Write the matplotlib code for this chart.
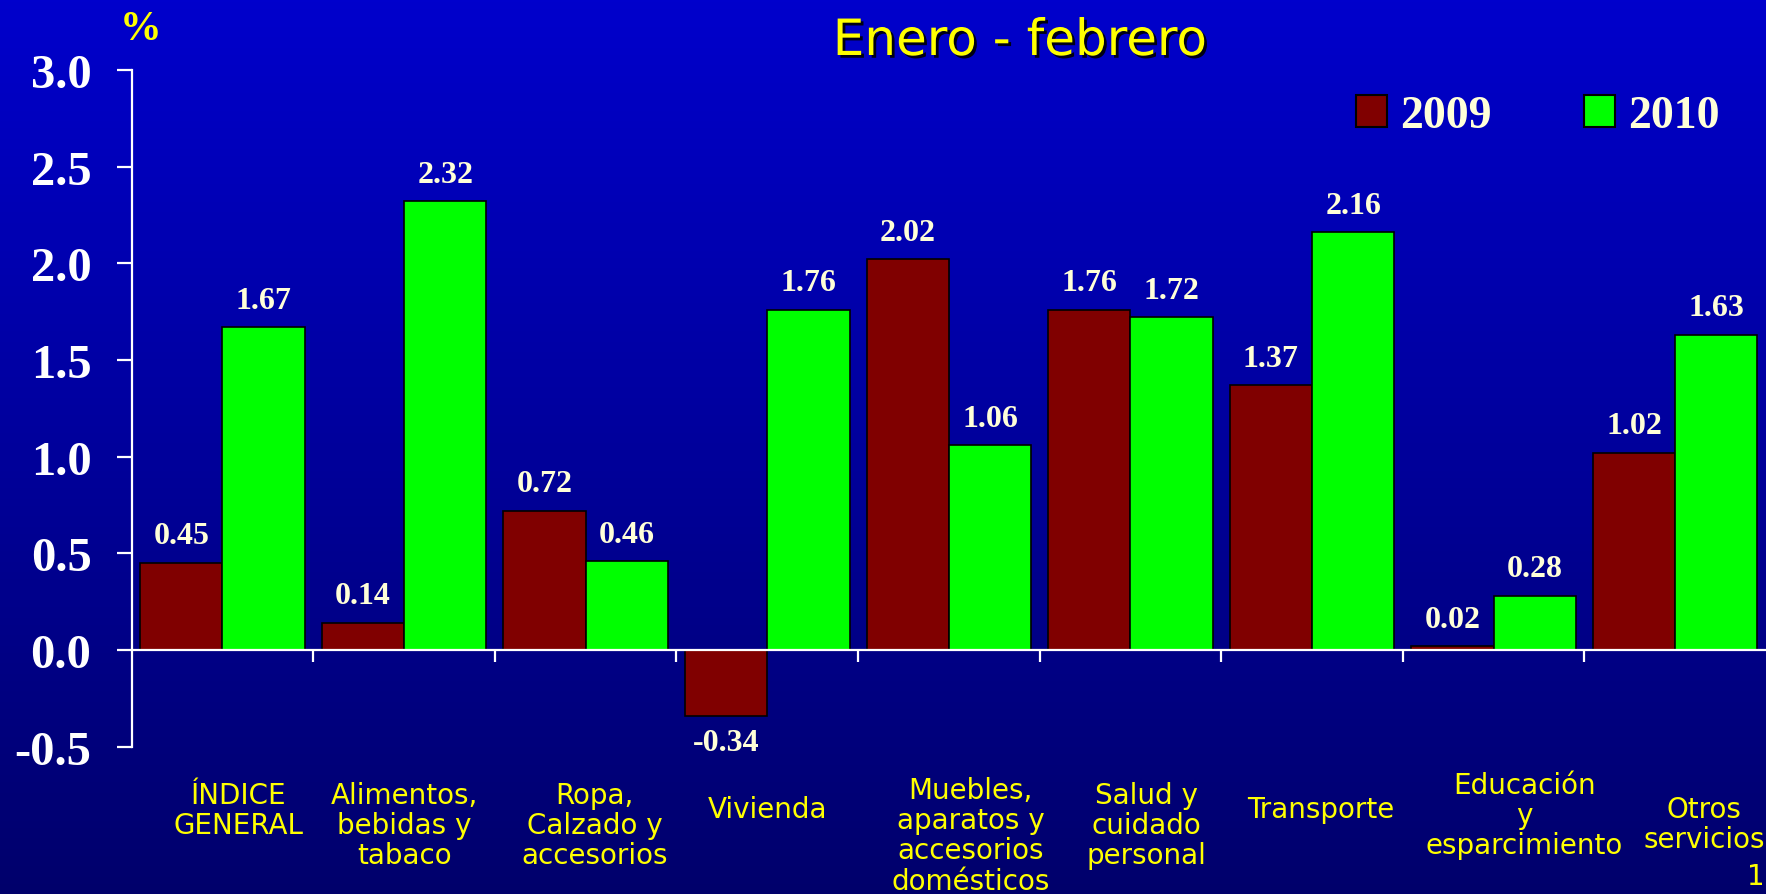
import numpy as np
import matplotlib
matplotlib.use('Agg')
import matplotlib.pyplot as plt
import matplotlib.patheffects as pe
from matplotlib.patches import Patch
from matplotlib.transforms import blended_transform_factory

# datos: variación acumulada enero-febrero (%)
categorias = ['ÍNDICE\nGENERAL', 'Alimentos,\nbebidas y\ntabaco', 'Ropa,\nCalzado y\naccesorios',
              'Vivienda', 'Muebles,\naparatos y\naccesorios\ndomésticos', 'Salud y\ncuidado\npersonal',
              'Transporte', 'Educación\ny\nesparcimiento', 'Otros\nservicios']
valores_2009 = [0.45, 0.14, 0.72, -0.34, 2.02, 1.76, 1.37, 0.02, 1.02]
valores_2010 = [1.67, 2.32, 0.46, 1.76, 1.06, 1.72, 2.16, 0.28, 1.63]
yticks = [-0.5, 0.0, 0.5, 1.0, 1.5, 2.0, 2.5, 3.0]

# posición de las etiquetas del eje x (desplazamiento y altura de la primera línea, px)
lbl_dx = [0.09, 0.0, 0.05, 0.0, 0.12, 0.09, 0.05, 0.17, 0.16]
lbl_top = [782, 782, 782, 796, 777, 782, 796, 772, 796]

W, H = 1766, 895
rojo = '#800000'
verde = '#00FF00'
amarillo = '#FFFF00'
crema = '#FFFFD8'

fig = plt.figure(figsize=(W / 100, H / 100), dpi=100)

# fondo degradado azul
bg = fig.add_axes([0, 0, 1, 1], zorder=-10)
grad = np.linspace(0, 1, 256).reshape(-1, 1)
top_c = np.array([0.0, 0.0, 0.80])
bot_c = np.array([0.0, 0.0, 0.42])
img = top_c[None, None, :] * (1 - grad[:, :, None]) + bot_c[None, None, :] * grad[:, :, None]
bg.imshow(img, aspect='auto', extent=[0, 1, 0, 1])
bg.set_axis_off()

left = 131.7 / W
bottom = 1 - 747.7 / H
top = 1 - 71 / H
ax = fig.add_axes([left, bottom, 1 - left, top - bottom])
ax.set_facecolor('none')

x = np.arange(len(categorias))
w = 0.453
b1 = ax.bar(x - w / 2, valores_2009, w, color=rojo, edgecolor='black', linewidth=1.2, zorder=2)
b2 = ax.bar(x + w / 2, valores_2010, w, color=verde, edgecolor='black', linewidth=1.2, zorder=2)

ax.set_xlim(-0.5, len(categorias) - 0.5)
ax.set_ylim(-0.5, 3.0)

# etiquetas de valores
for bars, vals in [(b1, valores_2009), (b2, valores_2010)]:
    for r, v in zip(bars, vals):
        off = 19.5 if v >= 0 else -19.5
        ax.annotate('%.2f' % v, (r.get_x() + r.get_width() / 2, v),
                    xytext=(0, off), textcoords='offset points',
                    ha='center', va='center', color=crema,
                    fontsize=23, fontweight='bold', family='Liberation Serif')

# ejes
for s in ['top', 'right']:
    ax.spines[s].set_visible(False)
ax.spines['bottom'].set_position(('data', 0))
ax.spines['bottom'].set_color('white')
ax.spines['left'].set_color('white')
ax.spines['bottom'].set_linewidth(1.6)
ax.spines['left'].set_linewidth(1.6)
ax.spines['bottom'].set_zorder(3)

ax.set_yticks(yticks)
ax.set_yticklabels(['%.1f' % t for t in yticks])
ax.tick_params(axis='y', colors='white', direction='out', length=11, width=1.6, pad=18,
               labelsize=35)
for t in ax.get_yticklabels():
    t.set_fontfamily('Liberation Serif')
    t.set_fontweight('bold')

ax.set_xticks(np.arange(0.5, len(categorias) - 1, 1.0))
ax.set_xticklabels([])
ax.tick_params(axis='x', colors='white', direction='out', length=8.5, width=1.6)

# etiquetas de categorías
trans = blended_transform_factory(ax.transData, fig.transFigure)
for i, cat in enumerate(categorias):
    ax.text(i + lbl_dx[i], 1 - lbl_top[i] / H, cat, transform=trans,
            ha='center', va='top', multialignment='center', color=amarillo,
            fontsize=20, family='DejaVu Sans', linespacing=1.1, clip_on=False)

# título con sombra
fig.text(1020 / W, 1 - 42 / H, 'Enero - febrero', ha='center', va='center',
         color=amarillo, fontsize=36, family='DejaVu Sans',
         path_effects=[pe.SimplePatchShadow(offset=(2, -2), shadow_rgbFace='black', alpha=0.9),
                       pe.Normal()])

fig.text(141 / W, 1 - 30 / H, '%', ha='center', va='center', color=amarillo,
         fontsize=30, fontweight='bold', family='Liberation Serif')

# leyenda
handles = [Patch(facecolor=rojo, edgecolor='black', linewidth=1.5, label='2009'),
           Patch(facecolor=verde, edgecolor='black', linewidth=1.5, label='2010')]
leg = fig.legend(handles=handles, loc='center right', bbox_to_anchor=(1720 / W, 1 - 117 / H),
                 ncol=2, frameon=False, borderpad=0, borderaxespad=0,
                 handlelength=0.68, handleheight=0.68, handletextpad=0.3, columnspacing=2.0,
                 prop={'family': 'Liberation Serif', 'weight': 'bold', 'size': 33})
for t in leg.get_texts():
    t.set_color(crema)

# número de diapositiva en la esquina
fig.text(1765 / W, 1 - 877 / H, '1', ha='right', va='center', color=amarillo,
         fontsize=20, family='DejaVu Sans')

fig.savefig('out.png', dpi=100)
